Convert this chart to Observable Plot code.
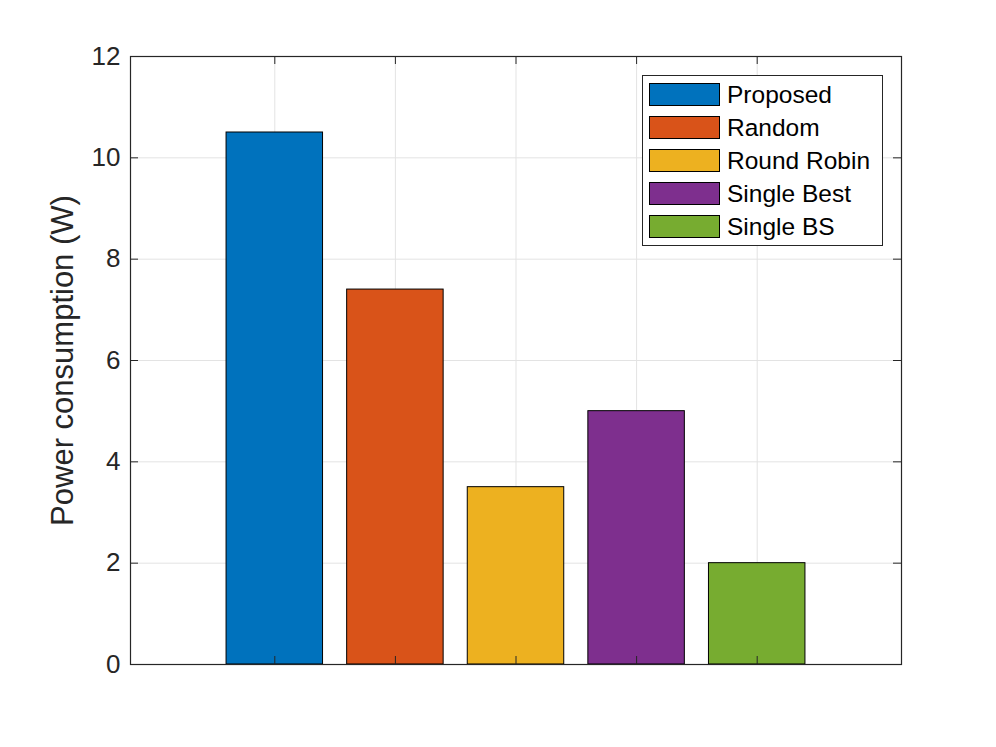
<!DOCTYPE html>
<html>
<head>
<meta charset="utf-8">
<script src="https://cdn.jsdelivr.net/npm/d3@7"></script>
<script src="https://cdn.jsdelivr.net/npm/@observablehq/plot@0.6"></script>
<style>
  html, body { margin: 0; padding: 0; background: #fff; }
  #wrap { position: relative; width: 996px; height: 747px; font-family: "Liberation Sans", Arial, Helvetica, sans-serif; }
  #legend { position: absolute; left: 642px; top: 75px; width: 241px; height: 171px; box-sizing: border-box;
            border: 1px solid #262626; background: #fff; padding: 2px 0 0 6px; }
  .row { height: 33px; display: flex; align-items: center; font-size: 24.5px; color: #000; }
  .sw { width: 71px; height: 23px; box-sizing: border-box; border: 1px solid #000; margin-right: 7px; }
</style>
</head>
<body>
<div id="wrap"></div>
<script>
// ---- data ----
const methods = ["Proposed", "Random", "Round Robin", "Single Best", "Single BS"];
const power = [10.5, 7.4, 3.5, 5.0, 2.0];
const palette = ["#0072BD", "#D95319", "#EDB120", "#7E2F8E", "#77AC30"];
const yTicks = [0, 2, 4, 6, 8, 10, 12];
const yLabel = "Power consumption (W)";

const data = methods.map((m, i) => ({name: m, value: power[i]}));

const W = 996, H = 747;
const mL = 130, mR = 95, mT = 56, mB = 83;
const fw = W - mL - mR, fh = H - mT - mB;
const grid = "#e3e3e3", axisCol = "#262626";

const chart = Plot.plot({
  width: W, height: H,
  marginLeft: mL, marginRight: mR, marginTop: mT, marginBottom: mB,
  style: {fontSize: "26px", fontFamily: "'Liberation Sans', Arial, Helvetica, sans-serif", color: axisCol, background: "#fff"},
  x: {type: "band", domain: methods, paddingInner: 0.2, paddingOuter: 0.7965, round: false, axis: null},
  y: {domain: [0, 12], axis: null},
  color: {domain: methods, range: palette},
  marks: [
    Plot.ruleY(yTicks.slice(1, -1), {y: d => d, stroke: grid, strokeWidth: 1}),
    Plot.ruleX(methods, {x: d => d, stroke: grid, strokeWidth: 1}),
    Plot.barY(data, {x: "name", y: "value", fill: "name", stroke: "#000", strokeWidth: 1}),
    // inward tick marks on all four sides
    Plot.ruleY(yTicks, {y: d => d, insetRight: fw - 8, stroke: axisCol}),
    Plot.ruleY(yTicks, {y: d => d, insetLeft: fw - 8, stroke: axisCol}),
    Plot.ruleX(methods, {x: d => d, insetBottom: fh - 8, stroke: axisCol}),
    Plot.ruleX(methods, {x: d => d, insetTop: fh - 8, stroke: axisCol}),
    Plot.frame({stroke: axisCol, strokeWidth: 1.2}),
    Plot.axisY({ticks: yTicks, tickSize: 0, tickPadding: 10, label: null, fill: axisCol}),
    Plot.text([yLabel], {text: d => d, frameAnchor: "left", textAnchor: "middle", dx: -67, rotate: -90, fontSize: 31, fill: axisCol})
  ]
});

const wrap = document.getElementById("wrap");
wrap.appendChild(chart);

const legend = document.createElement("div");
legend.id = "legend";
methods.forEach((m, i) => {
  const row = document.createElement("div");
  row.className = "row";
  const sw = document.createElement("div");
  sw.className = "sw";
  sw.style.background = palette[i];
  const t = document.createElement("span");
  t.textContent = m;
  row.appendChild(sw);
  row.appendChild(t);
  legend.appendChild(row);
});
wrap.appendChild(legend);
</script>
</body>
</html>
